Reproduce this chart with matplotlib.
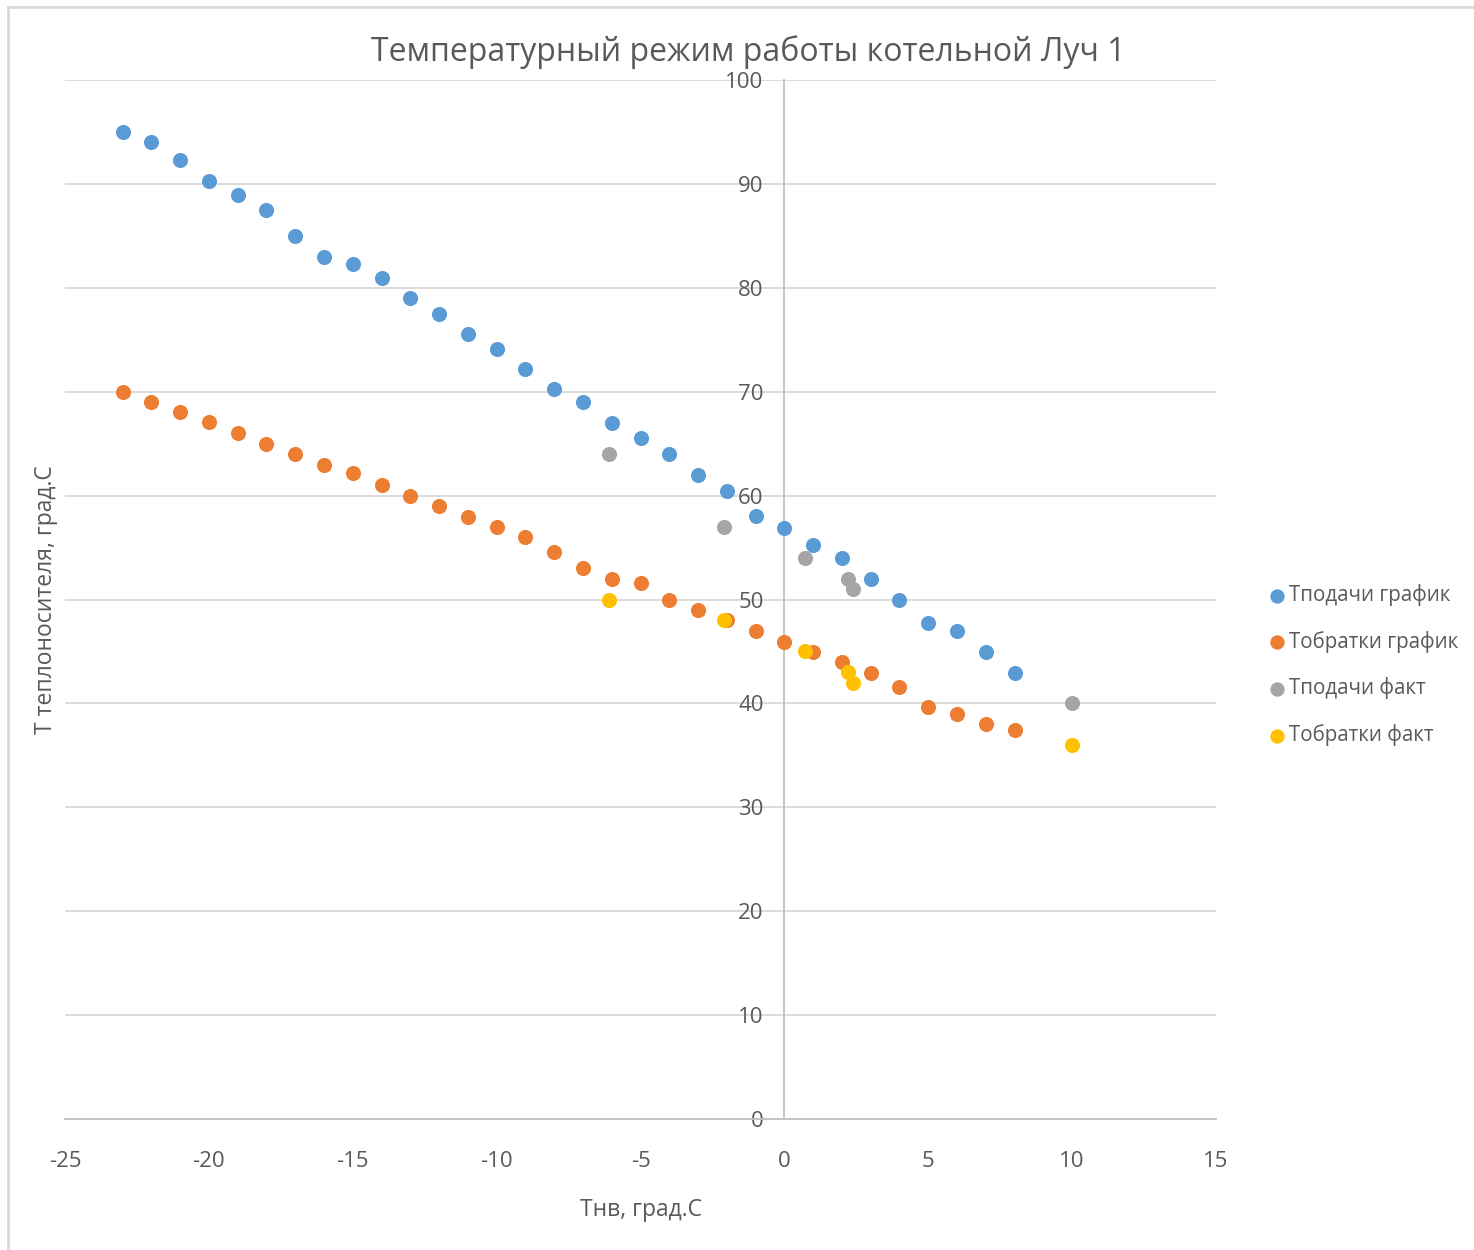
import matplotlib
matplotlib.use("Agg")
import matplotlib.pyplot as plt
from matplotlib.patches import Rectangle

plt.rcParams['font.family'] = ['Open Sans', 'DejaVu Sans']
plt.rcParams['axes.unicode_minus'] = False

# Data
t_graph = list(range(-23, 9))
supply_graph = [95.0, 94.0, 92.3, 90.3, 88.9, 87.5, 85.0, 83.0, 82.3, 80.9,
                79.0, 77.5, 75.6, 74.1, 72.2, 70.3, 69.0, 67.0, 65.5, 64.0,
                62.0, 60.4, 58.0, 56.9, 55.2, 54.0, 52.0, 50.0, 47.7, 47.0,
                44.9, 42.9]
return_graph = [70.0, 69.0, 68.0, 67.1, 66.0, 65.0, 64.0, 62.9, 62.2, 61.0,
                60.0, 59.0, 57.9, 57.0, 56.0, 54.6, 53.0, 52.0, 51.6, 50.0,
                49.0, 48.0, 47.0, 45.9, 44.9, 44.0, 42.9, 41.6, 39.7, 39.0,
                38.0, 37.4]
t_fact = [-6.1, -2.1, 0.7, 2.2, 2.4, 10.0]
supply_fact = [64, 57, 54, 52, 51, 40]
return_fact = [50, 48, 45, 43, 42, 36]

series_names = ["Тподачи график", "Тобратки график", "Тподачи факт", "Тобратки факт"]
colors = ["#5B9BD5", "#ED7D31", "#A5A5A5", "#FFC000"]

title = "Температурный режим работы котельной Луч 1"
xlabel = "Тнв, град.С"
ylabel = "Т теплоносителя, град.С"

text_color = "#595959"

fig = plt.figure(figsize=(14.74, 12.5), dpi=100)
fig.patches.append(Rectangle((8/1474, -0.01), 1.1, 1 - 7/1250 + 0.01, transform=fig.transFigure,
                             fill=False, edgecolor="#D9D9D9", linewidth=2, zorder=0))

ax = fig.add_axes([65/1474, 1 - 1119/1250, (1216-65)/1474, (1119-80)/1250])
ax.set_xlim(-25, 15)
ax.set_ylim(0, 100)

ms = 118
ax.scatter(t_graph, supply_graph, s=ms, color=colors[0], label=series_names[0], zorder=3, linewidths=0)
ax.scatter(t_graph, return_graph, s=ms, color=colors[1], label=series_names[1], zorder=3, linewidths=0)
ax.scatter(t_fact, supply_fact, s=ms, color=colors[2], label=series_names[2], zorder=4, linewidths=0)
ax.scatter(t_fact, return_fact, s=ms, color=colors[3], label=series_names[3], zorder=4, linewidths=0)

ax.set_xticks(range(-25, 16, 5))
ax.set_yticks(range(0, 101, 10))
ax.grid(axis='y', color="#D9D9D9", linewidth=1.3, zorder=0)
ax.set_axisbelow(True)

for s in ['top', 'right']:
    ax.spines[s].set_visible(False)
ax.spines['left'].set_position(('data', 0))
ax.spines['left'].set_color("#BFBFBF")
ax.spines['left'].set_linewidth(1.3)
ax.spines['bottom'].set_color("#BFBFBF")
ax.spines['bottom'].set_linewidth(1.3)
ax.tick_params(axis='both', length=0, labelsize=16, labelcolor=text_color)
ax.tick_params(axis='x', pad=23)
ax.tick_params(axis='y', pad=15)

fig.text(748/1474, 1 - 52/1250, title, ha='center', va='center', fontsize=23, color=text_color)
fig.text(641/1474, 1 - 1210/1250, xlabel, ha='center', va='center', fontsize=16.5, color=text_color)
fig.text(46/1474, 1 - 600/1250, ylabel, ha='center', va='center', rotation=90, fontsize=16.5, color=text_color)

leg = fig.legend(loc='center left', bbox_to_anchor=(1246/1474, 1 - 665/1250), frameon=False,
                 fontsize=14.8, labelcolor=text_color, handletextpad=0.0, labelspacing=1.2,
                 markerscale=0.95, handlelength=1.2)

fig.savefig("out.png", dpi=100)
